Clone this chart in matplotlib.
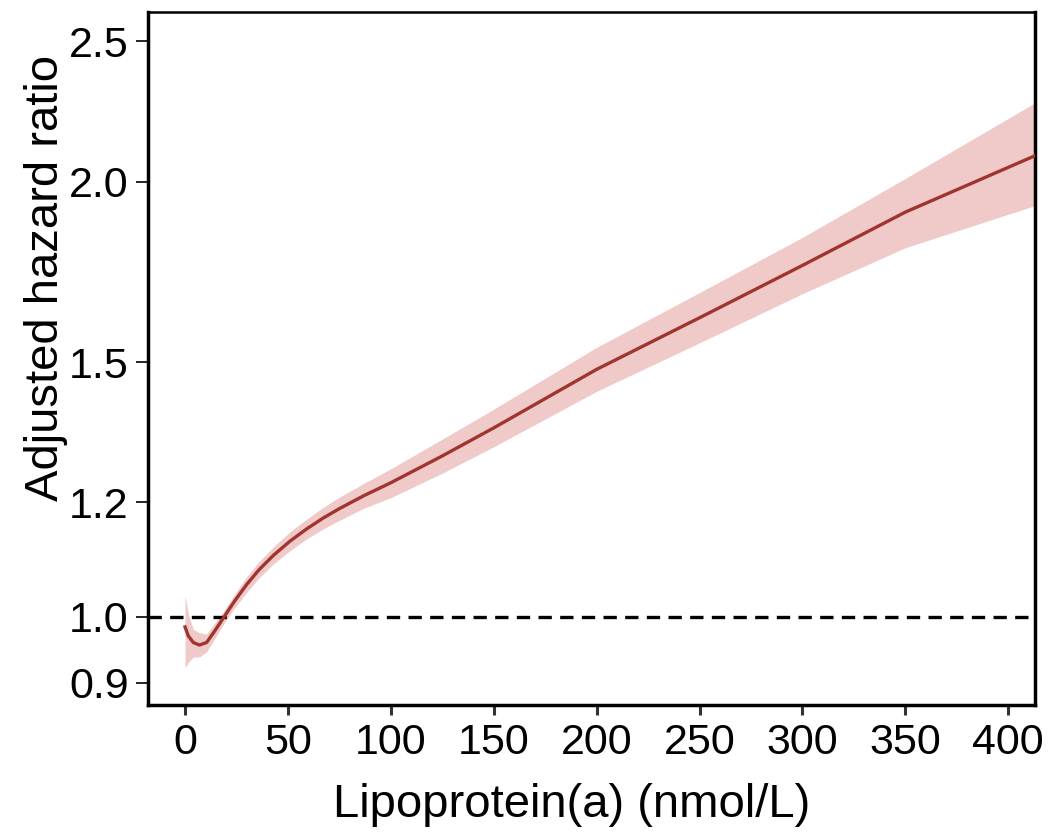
import matplotlib
matplotlib.use("Agg")
import matplotlib.pyplot as plt
from matplotlib.ticker import FixedLocator, FixedFormatter, NullLocator

plt.rcParams['font.family'] = ['Liberation Sans', 'DejaVu Sans']

# spline estimate
lpa = [0, 1.6, 4, 7, 10.5, 14.5, 19, 24, 30, 36, 43, 51, 59, 67, 75, 87,
       100, 125, 150, 200, 250, 300, 350, 415]
hr = [0.984, 0.970, 0.960, 0.956, 0.960, 0.978, 1.000, 1.025, 1.053, 1.078,
      1.103, 1.128, 1.150, 1.170, 1.188, 1.213, 1.238, 1.292, 1.351, 1.483,
      1.610, 1.750, 1.905, 2.090]
hr_upper = [1.035, 1.005, 0.980, 0.975, 0.973, 0.990, 1.010, 1.036, 1.066,
            1.092, 1.118, 1.145, 1.168, 1.190, 1.210, 1.237, 1.266, 1.327,
            1.392, 1.536, 1.676, 1.830, 2.010, 2.276]
hr_lower = [0.922, 0.930, 0.938, 0.938, 0.946, 0.966, 0.990, 1.014, 1.040,
            1.064, 1.088, 1.111, 1.132, 1.150, 1.166, 1.189, 1.209, 1.257,
            1.311, 1.432, 1.547, 1.673, 1.800, 1.929]

x_ticks = [0, 50, 100, 150, 200, 250, 300, 350, 400]
y_ticks = [0.9, 1.0, 1.2, 1.5, 2.0, 2.5]
y_labels = ['0.9', '1.0', '1.2', '1.5', '2.0', '2.5']

fig = plt.figure(figsize=(10.48, 8.34), dpi=100)
ax = fig.add_axes([0.1412, 0.1547, 0.8464, 0.8309])

ax.fill_between(lpa, hr_lower, hr_upper, color='#efcac8', lw=0, zorder=1)
ax.plot(lpa, hr, color='#a0352f', lw=2.4, zorder=3)
ax.axhline(1.0, color='black', lw=2.4, ls=(0, (4, 2.5)), zorder=2)

ax.set_yscale('log')
ax.set_xlim(-18, 413)
ax.set_ylim(0.869, 2.62)

ax.yaxis.set_major_locator(FixedLocator(y_ticks))
ax.yaxis.set_major_formatter(FixedFormatter(y_labels))
ax.yaxis.set_minor_locator(NullLocator())
ax.set_xticks(x_ticks)

ax.tick_params(axis='y', labelsize=31, length=9, width=1.2, pad=5)
ax.tick_params(axis='x', labelsize=31, length=7, width=2.2, color='#333333', pad=6)

for side in ['left', 'right', 'bottom']:
    ax.spines[side].set_linewidth(2.5)
ax.spines['top'].set_linewidth(1.8)

ax.set_xlabel('Lipoprotein(a) (nmol/L)', fontsize=34)
ax.set_ylabel('Adjusted hazard ratio', fontsize=34)
ax.xaxis.set_label_coords(0.478, -0.113)
ax.yaxis.set_label_coords(-0.09, 0.616)

fig.savefig('out.png', dpi=100)
